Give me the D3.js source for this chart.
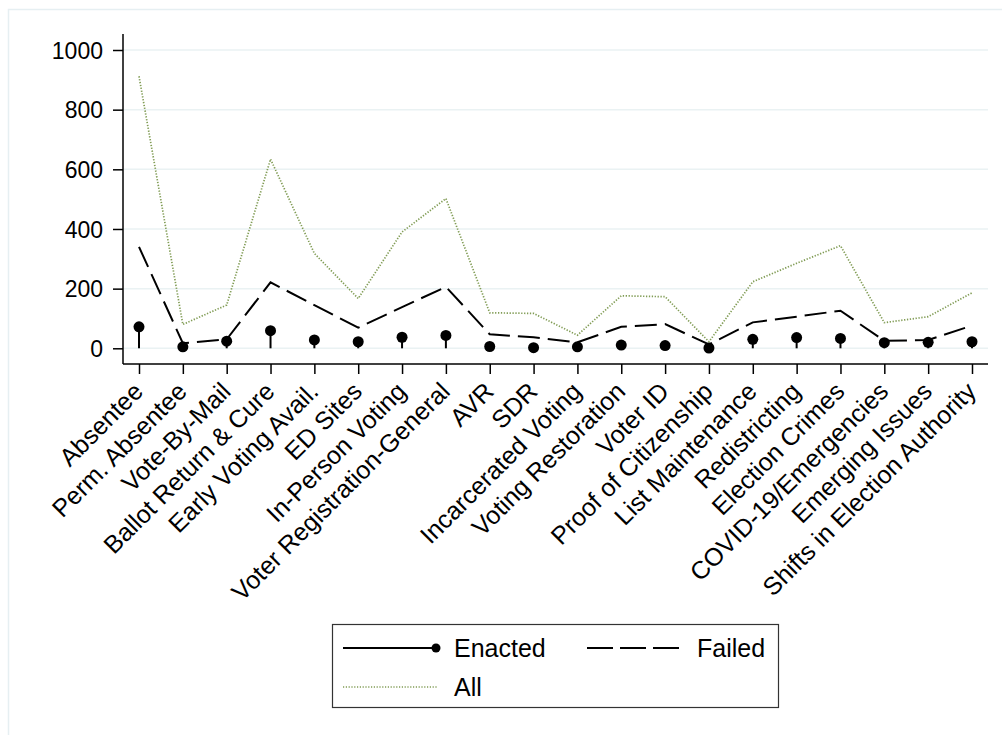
<!DOCTYPE html>
<html>
<head>
<meta charset="utf-8">
<script src="https://cdn.jsdelivr.net/npm/d3@7"></script>
<style>
    body { margin: 0; background: #fff; }
    text { font-family: "Liberation Sans", Arial, sans-serif; fill: #000; }
</style>
</head>
<body>
<div id="chart"></div>
<script>
var categories = ["Absentee", "Perm. Absentee", "Vote-By-Mail", "Ballot Return & Cure",
    "Early Voting Avail.", "ED Sites", "In-Person Voting", "Voter Registration-General",
    "AVR", "SDR", "Incarcerated Voting", "Voting Restoration", "Voter ID",
    "Proof of Citizenship", "List Maintenance", "Redistricting", "Election Crimes",
    "COVID-19/Emergencies", "Emerging Issues", "Shifts in Election Authority"];
var enacted = [72, 5, 24, 59, 28, 22, 37, 43, 6, 2, 5, 11, 9, 1, 30, 36, 33, 19, 20, 22];
var failed = [340, 17, 30, 221, 145, 69, 138, 206, 47, 37, 20, 72, 81, 13, 87, 106, 126, 25, 28, 76];
var all = [912, 80, 145, 634, 318, 167, 390, 502, 119, 117, 44, 176, 173, 22, 223, 285, 344, 86, 106, 186];
var yTicks = [0, 200, 400, 600, 800, 1000];

function init() {
    var w = 1002, h = 735;
    var plot = { left: 123, right: 988, top: 34, bottom: 364 };

    var svg = d3.select("#chart").append("svg")
        .attr("width", w)
        .attr("height", h);

    // outer graph region frame
    svg.append("rect")
        .attr("x", 8.5).attr("y", 9.5)
        .attr("width", 1100).attr("height", 800)
        .attr("fill", "none")
        .attr("stroke", "#e6eff2")
        .attr("stroke-width", 1.5);

    var xScale = d3.scalePoint()
        .domain(categories)
        .range([139, 972]);

    var yScale = d3.scaleLinear()
        .domain([0, 1000])
        .range([348.3, 50]);

    // gridlines
    svg.append("g").selectAll("line")
        .data(yTicks)
        .enter().append("line")
        .attr("x1", plot.left).attr("x2", plot.right)
        .attr("y1", function(d) { return yScale(d); })
        .attr("y2", function(d) { return yScale(d); })
        .attr("stroke", "#eaf2f3")
        .attr("stroke-width", 1.5);

    // y axis
    var yAxis = d3.axisLeft(yScale).tickValues(yTicks)
        .tickFormat(d3.format("d")).tickSize(10).tickPadding(10);
    var gy = svg.append("g")
        .attr("transform", "translate(" + plot.left + ",0)")
        .call(yAxis);
    gy.attr("font-family", null).attr("font-size", null);
    gy.select(".domain").remove();
    gy.append("line")
        .attr("y1", plot.top).attr("y2", plot.bottom)
        .attr("stroke", "#000").attr("stroke-width", 1.5);
    gy.selectAll(".tick line").attr("stroke", "#000").attr("stroke-width", 1.5);
    gy.selectAll(".tick text").style("font-size", "23px").attr("dy", "0.36em");

    // x axis
    var xAxis = d3.axisBottom(xScale).tickSize(10);
    var gx = svg.append("g")
        .attr("transform", "translate(0," + plot.bottom + ")")
        .call(xAxis);
    gx.attr("font-family", null).attr("font-size", null);
    gx.select(".domain").remove();
    gx.append("line")
        .attr("x1", plot.left).attr("x2", plot.right)
        .attr("stroke", "#000").attr("stroke-width", 1.5);
    gx.selectAll(".tick line").attr("stroke", "#000").attr("stroke-width", 1.5);
    gx.selectAll(".tick text")
        .style("font-size", "25px")
        .attr("text-anchor", "end")
        .attr("x", 0).attr("y", 0).attr("dy", "0")
        .attr("transform", "translate(5,29) rotate(-45)");

    var idx = d3.range(categories.length);

    // All (dotted)
    var lineAll = d3.line()
        .x(function(i) { return xScale(categories[i]); })
        .y(function(i) { return yScale(all[i]); });
    svg.append("path")
        .datum(idx)
        .attr("d", lineAll)
        .attr("fill", "none")
        .attr("stroke", "#819c55")
        .attr("stroke-width", 1.7)
        .attr("stroke-dasharray", "1.3,1.6");

    // Failed (dashed)
    var lineFailed = d3.line()
        .x(function(i) { return xScale(categories[i]); })
        .y(function(i) { return yScale(failed[i]); });
    svg.append("path")
        .datum(idx)
        .attr("d", lineFailed)
        .attr("fill", "none")
        .attr("stroke", "#000")
        .attr("stroke-width", 2)
        .attr("stroke-dasharray", "22,8");

    // Enacted (spikes with dots)
    svg.append("g").selectAll("line")
        .data(idx)
        .enter().append("line")
        .attr("x1", function(i) { return xScale(categories[i]); })
        .attr("x2", function(i) { return xScale(categories[i]); })
        .attr("y1", yScale(0))
        .attr("y2", function(i) { return yScale(enacted[i]); })
        .attr("stroke", "#000")
        .attr("stroke-width", 2);
    svg.append("g").selectAll("circle")
        .data(idx)
        .enter().append("circle")
        .attr("cx", function(i) { return xScale(categories[i]); })
        .attr("cy", function(i) { return yScale(enacted[i]); })
        .attr("r", 5.5)
        .attr("fill", "#000");

    // legend
    var lg = svg.append("g");
    lg.append("rect")
        .attr("x", 332.5).attr("y", 624.5)
        .attr("width", 446).attr("height", 83)
        .attr("fill", "#fff")
        .attr("stroke", "#333")
        .attr("stroke-width", 1.2);

    lg.append("line")
        .attr("x1", 343).attr("x2", 436).attr("y1", 648).attr("y2", 648)
        .attr("stroke", "#000").attr("stroke-width", 2);
    lg.append("circle").attr("cx", 436).attr("cy", 648).attr("r", 4.5).attr("fill", "#000");
    lg.append("text").attr("x", 454).attr("y", 648).attr("dy", "0.36em")
        .style("font-size", "25px").text("Enacted");

    lg.append("line")
        .attr("x1", 587).attr("x2", 680).attr("y1", 648).attr("y2", 648)
        .attr("stroke", "#000").attr("stroke-width", 2)
        .attr("stroke-dasharray", "26,7");
    lg.append("text").attr("x", 697).attr("y", 648).attr("dy", "0.36em")
        .style("font-size", "25px").text("Failed");

    lg.append("line")
        .attr("x1", 343).attr("x2", 437).attr("y1", 687).attr("y2", 687)
        .attr("stroke", "#819c55").attr("stroke-width", 1.4)
        .attr("stroke-dasharray", "1.2,1.6");
    lg.append("text").attr("x", 454).attr("y", 687).attr("dy", "0.36em")
        .style("font-size", "25px").text("All");
}

window.onload = init;
</script>
</body>
</html>
